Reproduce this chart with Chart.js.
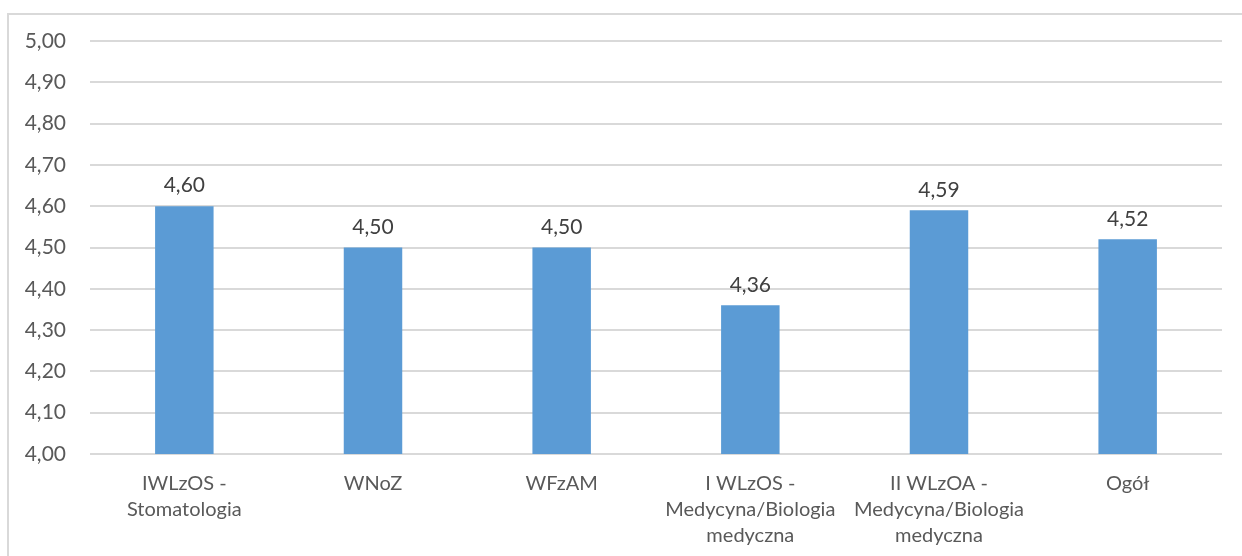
<!DOCTYPE html>
<html>
<head>
<meta charset="utf-8">
<script src="https://cdn.jsdelivr.net/npm/chart.js@4/dist/chart.umd.min.js"></script>
<style>
html,body{margin:0;padding:0;background:#fff;}
#frame{position:absolute;left:7px;top:13px;width:1300px;height:600px;border:2px solid #d9d9d9;box-sizing:border-box;}
#wrap{position:absolute;left:0;top:0;width:1242px;height:556px;}
</style>
</head>
<body>
<div id="frame"></div>
<div id="wrap"><canvas id="c" width="1242" height="556"></canvas></div>
<script>
const categories = [
  ["IWLzOS -", "Stomatologia"],
  ["WNoZ"],
  ["WFzAM"],
  ["I WLzOS -", "Medycyna/Biologia", "medyczna"],
  ["II WLzOA -", "Medycyna/Biologia", "medyczna"],
  ["Ogół"]
];
const values = [4.60, 4.50, 4.50, 4.36, 4.59, 4.52];
const yMin = 4.0, yMax = 5.0, yStep = 0.1;

const fmt = v => v.toFixed(2).replace('.', ',');
const FONT = "Lato, 'Open Sans', sans-serif";

const labelPlugin = {
  id: 'valueLabels',
  afterDatasetsDraw(chart) {
    const ctx = chart.ctx;
    const meta = chart.getDatasetMeta(0);
    ctx.save();
    ctx.fillStyle = '#404040';
    ctx.font = "21px " + FONT;
    ctx.textAlign = 'center';
    ctx.textBaseline = 'bottom';
    meta.data.forEach((bar, i) => {
      ctx.fillText(fmt(values[i]), bar.x, bar.y - 10);
    });
    ctx.restore();
  }
};

new Chart(document.getElementById('c'), {
  type: 'bar',
  data: {
    labels: categories,
    datasets: [{
      data: values,
      backgroundColor: '#5B9BD5',
      borderWidth: 0,
      barPercentage: 0.31,
      categoryPercentage: 1.0
    }]
  },
  options: {
    responsive: false,
    animation: false,
    devicePixelRatio: 1,
    layout: { padding: { top: 41, right: 20, left: 0, bottom: 0 } },
    plugins: { legend: { display: false }, tooltip: { enabled: false } },
    scales: {
      x: {
        grid: { display: false, drawTicks: false },
        border: { display: false },
        ticks: {
          color: '#595959',
          font: { size: 20, family: FONT, lineHeight: 1.3 },
          padding: 17,
          maxRotation: 0,
          autoSkip: false
        },
        afterFit(scale) { scale.height = 556 - 454; }
      },
      y: {
        min: yMin, max: yMax,
        grid: { color: '#d9d9d9', lineWidth: 2, drawTicks: false },
        border: { display: false },
        ticks: {
          stepSize: yStep,
          color: '#595959',
          font: { size: 21, family: FONT },
          padding: 24,
          callback: v => fmt(v)
        },
        afterFit(scale) { scale.width = 90; }
      }
    }
  },
  plugins: [labelPlugin]
});
</script>
</body>
</html>
